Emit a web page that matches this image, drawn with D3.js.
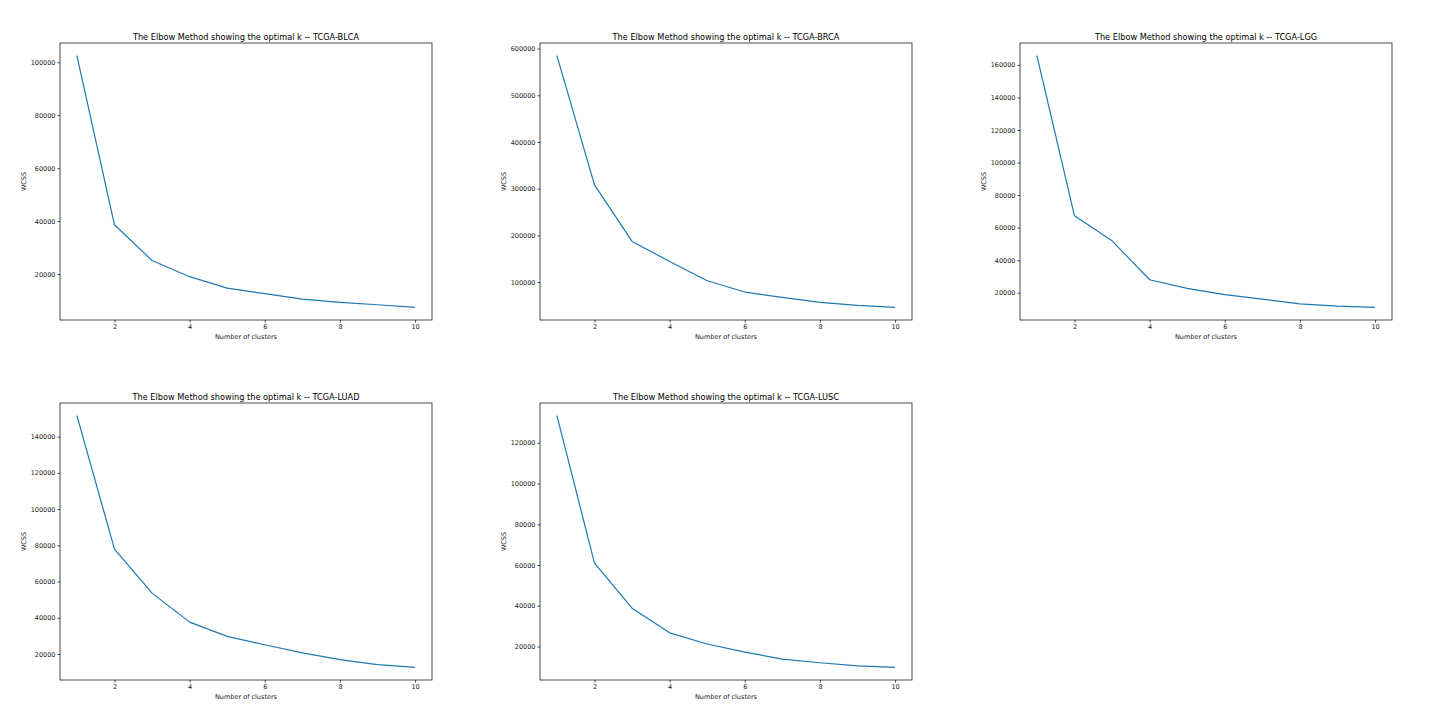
<!DOCTYPE html>
<html><head><meta charset="utf-8">
<script src="https://cdn.jsdelivr.net/npm/d3@7"></script>
<style>body{margin:0;background:#fff}svg{display:block}text{font-family:"DejaVu Sans",sans-serif}</style>
</head><body>
<script>
const clusters = [1,2,3,4,5,6,7,8,9,10];
const cohorts = ["TCGA-BLCA","TCGA-BRCA","TCGA-LGG","TCGA-LUAD","TCGA-LUSC"];
const wcssBLCA = [102500,38600,25100,19000,14700,12600,10500,9300,8400,7400];
const wcssBRCA = [585000,308000,187000,144000,102800,78600,67000,56300,50000,45700];
const wcssLGG  = [165700,67300,51900,28000,22700,18800,16100,13200,11800,11000];
const wcssLUAD = [151600,77900,53600,37600,29700,25100,20600,16900,14100,12600];
const wcssLUSC = [133400,60900,38800,26700,21200,17200,13800,12000,10500,9700];
const seriesList = [wcssBLCA,wcssBRCA,wcssLGG,wcssLUAD,wcssLUSC];
const xTicks = [2,4,6,8,10];
const yTicksList = [
  [20000,40000,60000,80000,100000],
  [100000,200000,300000,400000,500000,600000],
  [20000,40000,60000,80000,100000,120000,140000,160000],
  [20000,40000,60000,80000,100000,120000,140000],
  [20000,40000,60000,80000,100000,120000]
];

const W=1440,H=720;
const svg=d3.select("body").append("svg").attr("width",W).attr("height",H);
const panelLeft=[60,540,1020], panelTop=[43,403];
const pw=372, ph=277;

seriesList.forEach((vals,i)=>{
  const col=i%3,row=Math.floor(i/3);
  const g=svg.append("g").attr("transform",`translate(${panelLeft[col]},${panelTop[row]})`);
  const xmin=d3.min(clusters),xmax=d3.max(clusters),xpad=(xmax-xmin)*0.05;
  const x=d3.scaleLinear().domain([xmin-xpad,xmax+xpad]).range([0,pw]);
  const ymin=d3.min(vals),ymax=d3.max(vals),ypad=(ymax-ymin)*0.05;
  const y=d3.scaleLinear().domain([ymin-ypad,ymax+ypad]).range([ph,0]);

  const xa=g.append("g").attr("transform",`translate(0,${ph})`)
    .call(d3.axisBottom(x).tickValues(xTicks).tickFormat(d3.format("d")).tickSize(2.5).tickPadding(2));
  const ya=g.append("g")
    .call(d3.axisLeft(y).tickValues(yTicksList[i]).tickFormat(d3.format("d")).tickSize(2.5).tickPadding(2));
  [xa,ya].forEach(a=>{
    a.select(".domain").remove();
    a.selectAll("line").attr("stroke","#000").attr("stroke-width",0.7);
    a.selectAll("text").attr("font-size","6.5px").attr("fill","#222").attr("font-family","DejaVu Sans");
  });

  g.append("path").datum(vals)
    .attr("fill","none").attr("stroke","#1f77b4").attr("stroke-width",1.2).attr("stroke-linejoin","round")
    .attr("d",d3.line().x((d,j)=>x(clusters[j])).y(d=>y(d)));

  g.append("rect").attr("width",pw).attr("height",ph).attr("fill","none").attr("stroke","#000").attr("stroke-width",0.7);

  g.append("text").attr("x",pw/2).attr("y",-3.5).attr("text-anchor","middle")
    .attr("font-size","8.2px").attr("fill","#000")
    .text("The Elbow Method showing the optimal k -- "+cohorts[i]);
  g.append("text").attr("x",pw/2).attr("y",ph+18.5).attr("text-anchor","middle")
    .attr("font-size","6.5px").attr("fill","#222").text("Number of clusters");
  g.append("text").attr("transform",`translate(-34,${ph/2}) rotate(-90)`).attr("text-anchor","middle")
    .attr("font-size","6.5px").attr("fill","#222").text("WCSS");
});
</script>
</body></html>
